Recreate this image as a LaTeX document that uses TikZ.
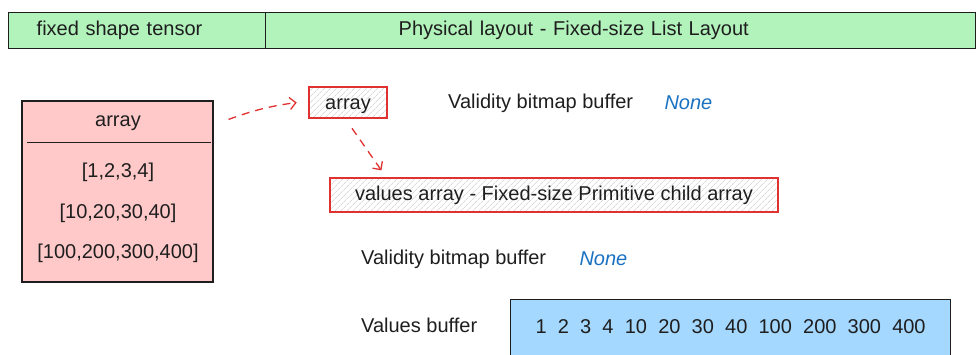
\documentclass[tikz,border=0pt]{standalone}
\usepackage{fontspec}
\setmainfont{Liberation Sans}
\usepackage{xcolor}
\definecolor{cGreen}{HTML}{B2F2BB}
\definecolor{cPink}{HTML}{FFC9C9}
\definecolor{cBlue}{HTML}{A5D8FF}
\definecolor{cRed}{HTML}{E03131}
\definecolor{cInk}{HTML}{1E1E1E}
\definecolor{cNone}{HTML}{1971C2}
\usetikzlibrary{positioning,arrows.meta,patterns.meta}
\tikzset{
  node-bar/.style={draw=cInk,line width=1.4pt,fill=cGreen,anchor=north west,
    minimum height=36pt,inner ysep=0pt,align=left},
  node-tensor/.style={draw=cInk,line width=1.2pt,fill=cPink,
    minimum width=191pt,minimum height=181pt},
  node-child/.style={draw=cRed,line width=1.2pt,
    pattern={Lines[angle=45,distance=4pt,line width=0.6pt]},pattern color=gray!45},
  node-buf/.style={draw=cInk,line width=1.2pt,fill=cBlue,anchor=north west,
    minimum width=440pt,inner ysep=20pt,text height=14pt,text depth=22pt},
  label-text/.style={text=cInk,inner sep=0pt},
  label-none/.style={text=cNone,font=\fontsize{20}{24}\selectfont\itshape,inner sep=0pt},
  arrow-ref/.style={-{Straight Barb[length=6pt,width=12pt]},line width=1.3pt,
    dash pattern=on 8pt off 6pt,draw=cRed},
}

\begin{document}
\begin{tikzpicture}[x=1pt,y=-1pt,font=\fontsize{20}{24}\selectfont,text=cInk]
  \useasboundingbox (0,0) rectangle (977,355);
  % header bar
  \node[node-bar,inner xsep=28pt,text width=201pt] (hd-left) at (8,12) {fixed shape tensor};
  \node[node-bar,inner xsep=133pt,text width=444pt] (hd-right) at (265,12) {Physical layout - Fixed-size List Layout};
  % logical value
  \node[node-tensor] (tensor) at (117.5,191.5) {};
  \node[label-text] (t-title) at (118,123) {array};
  \draw[cInk,line width=1pt] ([xshift=6]tensor.west |- 0,143) -- ([xshift=-3]tensor.east |- 0,143);
  \node[label-text] (t-row1) at (118,172) {[1,2,3,4]};
  \node[label-text] (t-row2) at (118,213) {[10,20,30,40]};
  \node[label-text] (t-row3) at (118,253) {[100,200,300,400]};
  % parent array
  \node[node-child,minimum width=78pt,minimum height=31pt,text height=14pt,text depth=0pt] (arr) at (348,102.5) {array};
  \node[label-text,anchor=west] (valid1) at (448,103) {Validity bitmap buffer};
  \node[label-none,anchor=west,right=31pt of valid1] (none1) {None};
  % child array
  \node[node-child,minimum width=448pt,minimum height=34pt] (vals) at (554,195) {values array - Fixed-size Primitive child array};
  \node[label-text,anchor=west] (valid2) at (361,259) {Validity bitmap buffer};
  \node[label-none,anchor=west,right=33pt of valid2] (none2) {None};
  \node[label-text,anchor=west] (buf-lbl) at (361,325) {Values buffer};
  \node[node-buf] (buf) at (510,299) {\spaceskip=11.2pt 1 2 3 4 10 20 30 40 100 200 300 400};
  % references
  \draw[arrow-ref] ([shift={(15,19)}]tensor.north east) to[bend left=6] ([xshift=-12]arr.west);
  \draw[arrow-ref] ([shift={(4,10)}]arr.south) -- ([shift={(52,-7)}]vals.north west);
\end{tikzpicture}
\end{document}
